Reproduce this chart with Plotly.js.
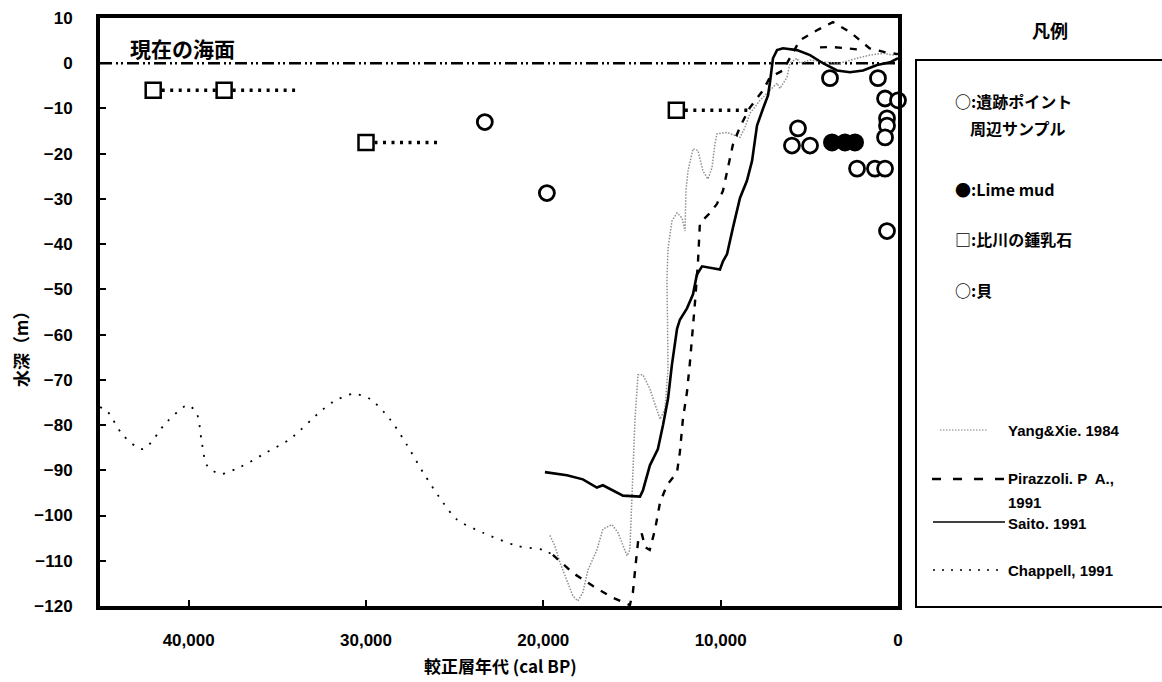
<!DOCTYPE html>
<html>
<head>
<meta charset="utf-8">
<script src="https://cdn.plot.ly/plotly-3.0.1.min.js"></script>
<style>html,body{margin:0;padding:0;background:#fff;}#chart{width:1162px;height:682px;}</style>
</head>
<body>
<div id="chart"></div>
<script>
// ---------------- data ----------------
const xTickVals = [40000, 30000, 20000, 10000, 0];
const xTickLabels = ['40,000', '30,000', '20,000', '10,000', '0'];
const yTickVals = [10, 0, -10, -20, -30, -40, -50, -60, -70, -80, -90, -100, -110, -120];

const currentSeaLevelX = [45000, 0];
const currentSeaLevelY = [0, 0];

// 比川の鍾乳石 (squares) and the dotted age ranges
const speleothemAge = [42000, 38000, 30000, 12500];
const speleothemDepth = [-6, -6, -17.5, -10.4];
const speleothemRangeEnd = [38000, 34000, 25700, 8400];

// open circles: 遺跡ポイント周辺サンプル / 貝
const siteAge = [23300, 19800, 3835, 1130, 730, 0, 620, 620, -225, 730, 5640, 5980, 4960, 2310, 1300, 730, 620];
const siteDepth = [-13, -28.7, -3.3, -3.3, -7.8, -8.2, -12.2, -13.8, -14.7, -16.4, -14.4, -18.2, -18.2, -23.3, -23.3, -23.3, -37.1];

// Lime mud (filled circles)
const limeMudAge = [3720, 2990, 2425];
const limeMudDepth = [-17.5, -17.5, -17.5];

// Yang & Xie 1984
const yangX = [19630, 19350, 19060, 18700, 18330, 18050, 17770, 17480, 16980, 16640, 16130, 15790, 15510, 15280, 15120, 15060, 15000, 14950, 14830, 14660, 14380, 13990, 13420, 13140, 12970, 13000, 13030, 12970, 12750, 12460, 12180, 12010, 11960, 11840, 11560, 11280, 11000, 10720, 10490, 10320, 10210, 9640, 8910, 8630, 8350, 7780, 7220, 6820, 6660, 6260, 6090, 5700, 5530, 4960, 4000, 3270, 2310, 1580, 850, 280, 0];
const yangY = [-104.4, -106.7, -110.4, -114, -117.8, -118.9, -117, -112, -107.6, -103, -102, -103.8, -106.7, -108.9, -107.6, -101.6, -96.4, -91.1, -78.7, -68.9, -68.9, -72, -78.7, -76.4, -67.6, -56.4, -48, -41, -34.9, -33.1, -34.2, -37.1, -28.2, -23.8, -18.9, -19.3, -23.8, -25.6, -23.1, -17.8, -15.6, -15.3, -16.4, -14.2, -11.1, -8.2, -6, -4.4, -5.6, -3.1, 0, 1.1, 0, 0.7, 0.2, 0, 1.1, 1.8, 2.2, 1.8, 2];

// Pirazzoli 1991
const pirazzoliX = [19460, 18330, 17200, 16070, 15120, 14950, 14800, 14650, 14450, 14250, 14000, 13700, 13420, 13030, 12460, 12300, 12130, 11900, 11730, 11620, 11450, 11280, 11170, 10600, 10210, 9870, 9590, 9310, 8900, 8350, 7610, 7220, 6490, 5530, 4570, 3670, 2710, 2310, 1600, 800, 0, null, 4400, 3700, 2900, 2200];
const pirazzoliY = [-108.7, -112.7, -115.6, -118.2, -119.8, -117, -111, -105.5, -104, -107, -107.6, -103.1, -97.1, -93.3, -90.4, -86, -78.7, -72.7, -66, -60, -53, -44, -35.3, -33.1, -31.1, -28.2, -22.7, -18, -14, -9.8, -6, -3.1, -1.6, 5.1, 7.3, 9.1, 6.9, 5.6, 3.3, 2.5, 2, null, 3.5, 3.6, 3.3, 3.0];

// Saito 1991
const saitoX = [19910, 18670, 17770, 16980, 16640, 16070, 15510, 14550, 14380, 13990, 13540, 13250, 12970, 12750, 12460, 12300, 11900, 11560, 11340, 11050, 10430, 10040, 9870, 9640, 9310, 8910, 8520, 8230, 8070, 7950, 7610, 7330, 7220, 7110, 7050, 6820, 6490, 5700, 4960, 4230, 3440, 2710, 1970, 1180, 450, 0];
const saitoY = [-90.4, -91.1, -92, -93.8, -93.3, -94.4, -95.6, -95.8, -94.4, -88.9, -85.3, -80, -74.2, -66.7, -58.7, -56.7, -54.2, -51.1, -46.7, -44.9, -45.3, -45.6, -43.8, -42.2, -36.4, -29.8, -26, -21.6, -17.1, -13.8, -10, -7.1, -4.2, -1.1, 1.1, 2.9, 3.3, 2.9, 1.8, 0, -1.6, -2, -1.6, -0.4, 0.2, 1.1];

// Chappell 1991
const chappellX = [45000, 44560, 43710, 42580, 41230, 40040, 39540, 39260, 38970, 38240, 37110, 35590, 34290, 32600, 31870, 30740, 29780, 28650, 27690, 26790, 25660, 24870, 23400, 21490, 20020, 19460];
const chappellY = [-76, -77.1, -82.2, -85.3, -79.3, -75.6, -77.5, -83.8, -88.9, -90.8, -89.3, -86, -83.1, -77.1, -74.9, -73.1, -74.2, -78.7, -84.4, -90.4, -97.1, -100.9, -103.8, -106.7, -107.6, -108.7];

const legendTitle = '凡例';
const markerLegendLabels = ['○:遺跡ポイント', '周辺サンプル', '●:Lime mud', '□:比川の鍾乳石', '○:貝'];
const lineLegendLabels = ['Yang&Xie. 1984', 'Pirazzoli. P  A.,', '1991', 'Saito. 1991', 'Chappell, 1991'];

// ---------------- layout helpers ----------------
const W = 1162, H = 682, ML = 100, MR = 264, MT = 18, MB = 76;
const px2x = p => (p - ML) / (W - ML - MR);
const px2y = p => (H - MB - p) / (H - MT - MB);
const jp = '"Noto Sans CJK JP", "Noto Sans", sans-serif';
const lat = '"Liberation Sans", Arial, sans-serif';

// speleothem range segments
const rangeX = [], rangeY = [];
speleothemAge.forEach((a, i) => { rangeX.push(a, speleothemRangeEnd[i], null); rangeY.push(speleothemDepth[i], speleothemDepth[i], null); });

const traces = [
  {x: currentSeaLevelX, y: currentSeaLevelY, mode: 'lines', line: {color: '#000', width: 2.4, dash: '12px,4px,2px,3px,2px,4px'}, hoverinfo: 'skip'},
  {x: chappellX, y: chappellY, mode: 'lines', line: {color: '#000', width: 1.8, dash: '2px,8px', shape: 'spline', smoothing: 0.8}, name: 'Chappell, 1991'},
  {x: yangX, y: yangY, mode: 'lines', line: {color: '#8f8f8f', width: 1.5, dash: '1.5px,1.5px'}, name: 'Yang&Xie. 1984'},
  {x: pirazzoliX, y: pirazzoliY, mode: 'lines', connectgaps: false, line: {color: '#000', width: 2.4, dash: '7px,8px'}, name: 'Pirazzoli'},
  {x: saitoX, y: saitoY, mode: 'lines', line: {color: '#000', width: 2.6}, name: 'Saito. 1991'},
  {x: rangeX, y: rangeY, mode: 'lines', connectgaps: false, line: {color: '#000', width: 3.5, dash: '3px,5.5px'}, hoverinfo: 'skip'},
  {x: speleothemAge, y: speleothemDepth, mode: 'markers', cliponaxis: false, marker: {symbol: 'square', size: 15, color: '#fff', line: {color: '#000', width: 2.5}}, name: '比川の鍾乳石'},
  {x: siteAge, y: siteDepth, mode: 'markers', cliponaxis: false, marker: {symbol: 'circle', size: 15, color: '#fff', line: {color: '#000', width: 2.8}}, name: '遺跡ポイント周辺サンプル'},
  {x: limeMudAge, y: limeMudDepth, mode: 'markers', cliponaxis: false, marker: {symbol: 'circle', size: 16, color: '#000', line: {color: '#000', width: 2}}, name: 'Lime mud'}
];

const annotations = [
  {text: '現在の海面', x: px2x(128), y: px2y(48), xanchor: 'left', yanchor: 'middle', font: {family: jp, size: 21, weight: 'bold', color: '#000'}},
  {text: '水深（m）', x: px2x(20), y: px2y(345), textangle: -90, xanchor: 'center', yanchor: 'middle', font: {family: jp, size: 17, weight: 'bold', color: '#000'}},
  {text: '較正層年代 (cal BP)', x: px2x(500), y: px2y(665), xanchor: 'center', yanchor: 'middle', font: {family: jp, size: 17, weight: 'bold', color: '#000'}},
  {text: legendTitle, x: px2x(1050), y: px2y(30), xanchor: 'center', yanchor: 'middle', font: {family: jp, size: 18, weight: 'bold', color: '#000'}}
];
const mlPos = [[953, 101], [968, 128], [953, 189], [953, 239], [953, 290]];
markerLegendLabels.forEach((t, i) => annotations.push({text: t, x: px2x(mlPos[i][0]), y: px2y(mlPos[i][1]), xanchor: 'left', yanchor: 'middle', font: {family: jp, size: 16, weight: 'bold', color: '#000'}}));
const llPos = [[1006, 430], [1006, 478], [1006, 502], [1006, 523], [1006, 570]];
lineLegendLabels.forEach((t, i) => annotations.push({text: t, x: px2x(llPos[i][0]), y: px2y(llPos[i][1]), xanchor: 'left', yanchor: 'middle', font: {family: lat, size: 15, weight: 'bold', color: '#000'}}));
annotations.forEach(a => { a.xref = 'paper'; a.yref = 'paper'; a.showarrow = false; });

const shapes = [
  {type: 'rect', x0: px2x(916), x1: px2x(1180), y0: px2y(607), y1: px2y(60), line: {color: '#000', width: 2}},
  {type: 'line', x0: px2x(940), x1: px2x(987), y0: px2y(430), y1: px2y(430), line: {color: '#aaa', width: 1.4, dash: '1.5px,1.5px'}},
  {type: 'line', x0: px2x(932), x1: px2x(1005), y0: px2y(479), y1: px2y(479), line: {color: '#000', width: 2.4, dash: '9px,12px'}},
  {type: 'line', x0: px2x(933), x1: px2x(1005), y0: px2y(522), y1: px2y(522), line: {color: '#000', width: 1.5}},
  {type: 'line', x0: px2x(933), x1: px2x(1005), y0: px2y(570), y1: px2y(570), line: {color: '#000', width: 1.6, dash: '2px,7px'}}
];
shapes.forEach(s => { s.xref = 'paper'; s.yref = 'paper'; });

const tickFont = {family: lat, size: 17, weight: 'bold', color: '#000'};
const layout = {
  width: W, height: H,
  margin: {l: ML, r: MR, t: MT, b: MB},
  paper_bgcolor: '#fff', plot_bgcolor: '#fff',
  showlegend: false,
  xaxis: {range: [45000, 0], tickvals: xTickVals, ticktext: xTickLabels, ticks: 'inside', ticklen: 6, tickwidth: 2, tickcolor: '#000',
          showgrid: false, zeroline: false, showline: true, linewidth: 4, linecolor: '#000', mirror: true, tickfont: tickFont, ticklabelstandoff: 16},
  yaxis: {range: [-120, 10], tickvals: yTickVals, ticks: 'inside', ticklen: 6, tickwidth: 2, tickcolor: '#000',
          showgrid: false, zeroline: false, showline: true, linewidth: 4, linecolor: '#000', mirror: true, tickfont: tickFont, ticklabelstandoff: 20},
  annotations: annotations,
  shapes: shapes
};
Plotly.newPlot('chart', traces, layout, {displayModeBar: false, staticPlot: true});
</script>
</body>
</html>
